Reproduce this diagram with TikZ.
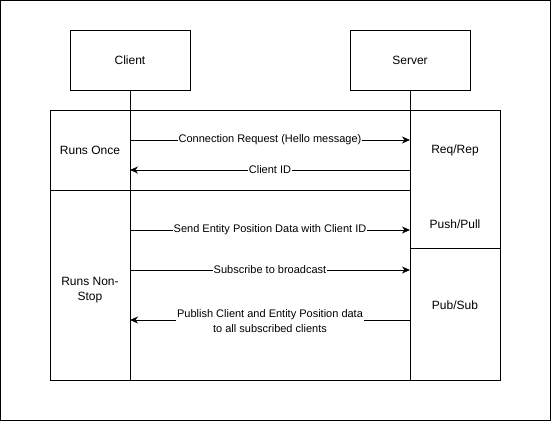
\documentclass[tikz,border=0pt]{standalone}
\usepackage{fontspec}
\setmainfont{Liberation Sans}
\usetikzlibrary{arrows.meta}
\begin{document}
\begin{tikzpicture}[x=1pt,y=-1pt, line width=1pt,
  every node/.style={font=\fontsize{12}{15}\selectfont},
  actor/.style={draw, minimum width=120pt, minimum height=60pt, inner sep=0pt},
  txt/.style={inner sep=0pt, align=center},
  msg/.style={-{Stealth[length=8pt,width=7pt,inset=2.5pt]}},
  lbl/.style={fill=white, inner sep=1pt, align=center, font=\fontsize{11}{15}\selectfont}]
\useasboundingbox (0,0) rectangle (551,421);
\draw (0.5,0.5) rectangle (550.5,420.5);
% actors
\node[actor] (client) at (130,60) {Client};
\node[actor] (server) at (410,60) {Server};
% frame
\coordinate (ftl) at (50,110);
\coordinate (fbr) at (500,380);
\draw (ftl) rectangle (fbr);
\coordinate (dl) at (50,190);
\coordinate (dr) at (410,190);
\draw (dl) -- (dr);
% right column
\coordinate (pp1) at (410,248);
\coordinate (pp2) at (500,248);
\draw (pp1) -- (pp2);
% lifelines
\coordinate (cend) at (130,380);
\coordinate (send) at (410,380);
\draw (client.south) -- (cend);
\draw (server.south) -- (send);
% labels
\node[txt] (once) at (90,150) {Runs Once};
\node[txt] (nonstop) at (90,290) {Runs Non-\\Stop};
\node[txt] (reqrep) at (455,150) {Req/Rep};
\node[txt] (pushpull) at (455,224) {Push/Pull};
\node[txt] (pubsub) at (455,305) {Pub/Sub};
% messages
\coordinate (c1) at (130,140); \coordinate (s1) at (410,140);
\coordinate (c2) at (130,170); \coordinate (s2) at (410,170);
\coordinate (c3) at (130,230); \coordinate (s3) at (410,230);
\coordinate (c4) at (130,270); \coordinate (s4) at (410,270);
\coordinate (c5) at (130,320); \coordinate (s5) at (410,320);
\draw[msg] (c1) -- node[lbl] (m1) {Connection Request (Hello message)} (s1);
\draw[msg] (s2) -- node[lbl] (m2) {Client ID} (c2);
\draw[msg] (c3) -- node[lbl] (m3) {Send Entity Position Data with Client ID} (s3);
\draw[msg] (c4) -- node[lbl] (m4) {Subscribe to broadcast} (s4);
\draw[msg] (s5) -- node[lbl, yshift=-1pt] (m5) {Publish Client and Entity Position data\\to all subscribed clients} (c5);
\end{tikzpicture}
\end{document}
